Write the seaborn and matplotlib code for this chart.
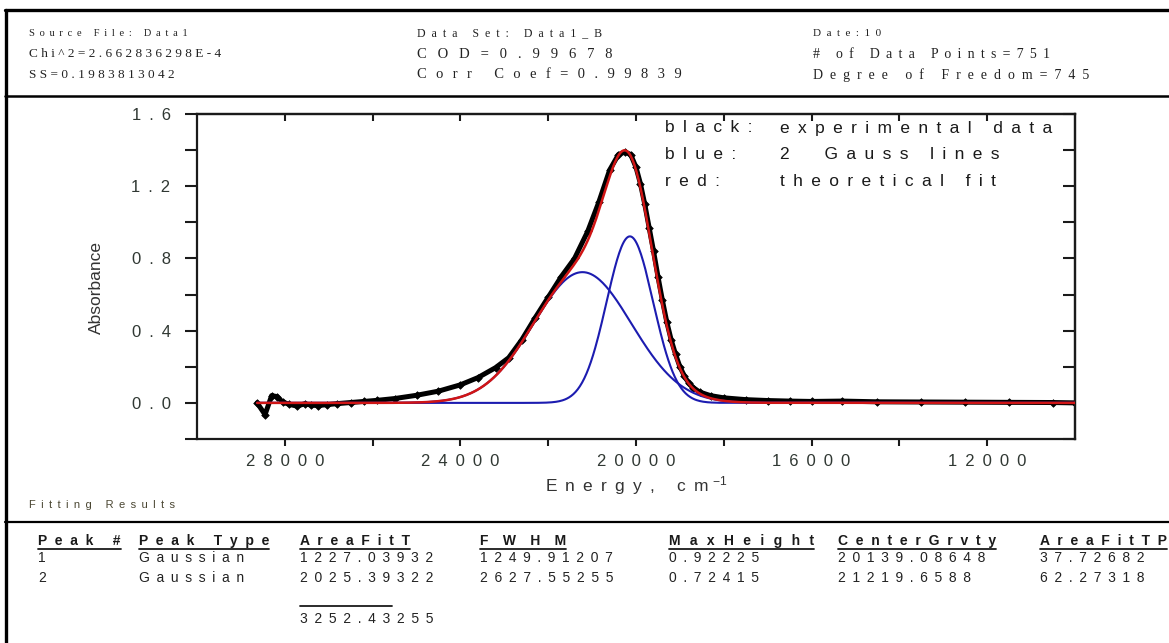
import numpy as np
import pandas as pd
import matplotlib
matplotlib.use("Agg")
import matplotlib.pyplot as plt
from matplotlib.lines import Line2D
from matplotlib.transforms import IdentityTransform
import seaborn as sns

# ---- experimental spectrum: energy (cm^-1) and absorbance ----
energy_exp = [28630, 28450, 28300, 28180, 28050, 27900, 27720, 27550, 27400, 27250,
              27050, 26800, 26500, 26200, 25900, 25500, 25000, 24500, 24000, 23600,
              23200, 22900, 22600, 22300, 22000, 21700, 21400, 21100, 20850, 20600,
              20400, 20250, 20120, 20000, 19900, 19800, 19700, 19600, 19500, 19400,
              19300, 19200, 19100, 19000, 18900, 18800, 18700, 18550, 18300, 18000,
              17500, 17000, 16500, 16000, 15300, 14500, 13500, 12500, 11500, 10500, 10000]
absorb_exp = [0.000, -0.065, 0.040, 0.035, 0.005, -0.008, -0.018, -0.005, -0.012, -0.015,
              -0.010, -0.004, 0.002, 0.008, 0.014, 0.024, 0.042, 0.065, 0.100, 0.140,
              0.195, 0.250, 0.350, 0.470, 0.585, 0.700, 0.800, 0.950, 1.110, 1.290,
              1.375, 1.390, 1.375, 1.305, 1.215, 1.100, 0.970, 0.840, 0.700, 0.570,
              0.450, 0.350, 0.270, 0.200, 0.150, 0.110, 0.085, 0.060, 0.040, 0.028,
              0.018, 0.013, 0.010, 0.008, 0.010, 0.006, 0.005, 0.004, 0.003, 0.002, 0.000]

# ---- Gaussian fit results ----
peak_no = [1, 2]
peak_type = ["Gaussian", "Gaussian"]
area_fit = [1227.03932, 2025.39322]
fwhm = [1249.91207, 2627.55255]
max_height = [0.92225, 0.72415]
center = [20139.08648, 21219.6588]
area_pct = [37.72682, 62.27318]
area_total = 3252.43255
n_points = 751

# ---- fit statistics header ----
stats_col1 = ["Source File: Data1", "Chi^2=2.662836298E-4", "SS=0.1983813042"]
stats_col2 = ["Data Set: Data1_B", "COD=0.99678", "Corr Coef=0.99839"]
stats_col3 = ["Date:10", "# of Data Points=751", "Degree of Freedom=745"]

x_major = [28000, 24000, 20000, 16000, 12000]
x_minor = [26000, 22000, 18000, 14000]
y_major = [0.0, 0.4, 0.8, 1.2, 1.6]
y_minor = [-0.2, 0.2, 0.6, 1.0, 1.4]

legend_keys = ["black:", "blue:", "red:"]
legend_vals = ["experimental data", "2  Gauss lines", "theoretical fit"]
table_heads = ["Peak #", "Peak Type", "AreaFitT", "FWHM", "MaxHeight", "CenterGrvty", "AreaFitTP"]

sns.set_theme(style="white")
plt.rcParams["font.family"] = ["Liberation Sans", "DejaVu Sans"]
plt.rcParams["mathtext.default"] = "regular"

W, H = 1169, 643
fig = plt.figure(figsize=(W / 100, H / 100), dpi=100)
fig.patch.set_facecolor("white")
renderer = fig.canvas.get_renderer()

SERIF = ["Liberation Serif", "DejaVu Serif"]
SANS = ["Liberation Sans", "DejaVu Sans"]
GAP = " \u2009"
GAP_CHOICES = [" ", " \u2009", " \u2009\u2009", "  ", "  \u2009", "  \u2009\u2009",
               "   ", "   \u2009", "    "]


def spaced(s, gap=" "):
    return gap.join(s)


def ftext(x, y, s, **kw):
    return fig.text(x / W, 1 - y / H, s, **kw)


def ftext_w(x, y, s, width, **kw):
    """Letter-spaced text whose spacing comes closest to the given pixel width."""
    best, best_err = None, None
    for g in GAP_CHOICES:
        t = ftext(x, y, spaced(s, g), **kw)
        err = abs(t.get_window_extent(renderer).width - width)
        t.remove()
        if best_err is None or err < best_err:
            best, best_err = g, err
    return ftext(x, y, spaced(s, best), **kw)


def fline(x0, x1, y0, y1, **kw):
    fig.add_artist(Line2D([x0 / W, x1 / W], [1 - y0 / H, 1 - y1 / H],
                          transform=fig.transFigure, **kw))


# ---- plot area ----
ax = fig.add_axes([197 / W, 1 - 439 / H, 878 / W, 325 / H])
ax.set_facecolor("white")

# Gaussian components and their sum on the fit grid
grid = np.linspace(energy_exp[0], energy_exp[-1], n_points)
comps = [h * np.exp(-4 * np.log(2) * (grid - c) ** 2 / w ** 2)
         for h, c, w in zip(max_height, center, fwhm)]
fit_df = pd.DataFrame({"energy": grid, "fit": np.sum(comps, axis=0)})
exp_df = pd.DataFrame({"energy": energy_exp, "absorbance": absorb_exp})

sns.lineplot(data=exp_df, x="energy", y="absorbance", ax=ax, color="black",
             linewidth=3.6, sort=False, zorder=2)
sns.scatterplot(data=exp_df, x="energy", y="absorbance", ax=ax, color="black",
                marker="D", s=15, edgecolor="black", linewidth=0.5, zorder=2)
for comp in comps:
    sns.lineplot(x=grid, y=comp, ax=ax, color="#1c1cb0", linewidth=1.5, zorder=3)
sns.lineplot(data=fit_df, x="energy", y="fit", ax=ax, color="#d01515",
             linewidth=1.8, zorder=4)

ax.set_xlim(30000, 10000)
ax.set_ylim(-0.2, 1.6)
ax.set_xlabel("")
ax.set_ylabel("")

tick_color = "#303833"
ax.set_xticks(x_major)
ax.set_xticks(x_minor, minor=True)
ax.set_xticklabels([spaced(str(v), GAP) for v in x_major], fontsize=12, color=tick_color)
ax.set_yticks(y_major)
ax.set_yticks(y_minor, minor=True)
ax.set_yticklabels([spaced(f"{v:.1f}", GAP) for v in y_major], fontsize=12, color=tick_color)
ax.tick_params(axis="x", which="both", direction="out", length=5, width=1.5,
               color="#1a1a1a", pad=6, bottom=True, top=False)
ax.tick_params(axis="y", which="both", direction="out", length=9, width=1.5,
               color="#1a1a1a", pad=10, left=True, right=False)
for sp in ax.spines.values():
    sp.set_visible(True)
    sp.set_color("#1a1a1a")
    sp.set_linewidth(1.6)

top = ax.secondary_xaxis("top")
top.set_xticks(x_major + x_minor)
top.set_xticklabels([])
top.tick_params(direction="in", length=5, width=1.5, color="#1a1a1a")
top.spines["top"].set_linewidth(1.6)
right = ax.secondary_yaxis("right")
right.set_yticks(y_major + y_minor)
right.set_yticklabels([])
right.tick_params(direction="in", length=9, width=1.5, color="#1a1a1a")
right.spines["right"].set_linewidth(1.6)

ftext(96, 288, "Absorbance", rotation=90, ha="center", va="center",
      fontsize=12.5, color="#333333", family=SANS)
ftext(636, 486, spaced("Energy, cm", GAP) + r" $^{-1}$", ha="center", va="center",
      fontsize=12.5, color="#333333", family=SANS)

# colour key inside the plot
for i, (k, v) in enumerate(zip(legend_keys, legend_vals)):
    y = 128 + 26.5 * i
    ftext(665, y, spaced(k, GAP), ha="left", va="center", fontsize=12.5,
          color="#1a1a1a", family=SANS)
    ftext(780, y, spaced(v, GAP), ha="left", va="center", fontsize=12.5,
          color="#1a1a1a", family=SANS)

# ---- frame and statistics header ----
fline(5, W, 10, 10, color="black", linewidth=2.4)
fline(6, 6, 10, H, color="black", linewidth=2.4)
fline(5, W, 96, 96, color="black", linewidth=1.8)
fline(5, W, 522, 522, color="black", linewidth=1.6)

row_y = [33, 54, 75]
stat_widths = [[158, 183, 162], [193, 201, 259], [68, 234, 272]]
stat_sizes = [[7.5, 9.5, 9.5], [8.5, 10.5, 10.5], [8, 10, 10]]
for col_x, col, widths, sizes in zip([29, 417, 813], [stats_col1, stats_col2, stats_col3],
                                     stat_widths, stat_sizes):
    for j, (s, wpx, fs) in enumerate(zip(col, widths, sizes)):
        ftext_w(col_x, row_y[j], s, wpx, ha="left", va="center",
                fontsize=fs, color="#222222", family=SERIF)

# ---- fitting results table ----
ftext(29, 505, spaced("Fitting Results", GAP), ha="left", va="center", fontsize=8,
      color="#4a4632", family=SANS)

col_x = [38, 139, 300, 480, 669, 838, 1040]
head_widths = [85, 133, 109, 86, 139, 159, 128]
head_txt = []
for x, h, wpx in zip(col_x, table_heads, head_widths):
    head_txt.append(ftext_w(x, 541, h, wpx, ha="left", va="center", fontsize=10,
                            fontweight="bold", color="#1a1a1a", family=SANS))
rows = [[str(n), t, str(a), str(w), str(m), str(c), str(p)]
        for n, t, a, w, m, c, p in zip(peak_no, peak_type, area_fit, fwhm,
                                       max_height, center, area_pct)]
for ry, row in zip([558, 578], rows):
    for x, s in zip(col_x, row):
        ftext(x, ry, spaced(s, GAP), ha="left", va="center", fontsize=10,
              color="#222222", family=SANS)

sum_txt = ftext(300, 619, spaced(str(area_total), GAP), ha="left", va="center",
                fontsize=10, color="#222222", family=SANS)

fig.canvas.draw()
for t in head_txt:
    bb = t.get_window_extent(renderer)
    fig.add_artist(Line2D([bb.x0, bb.x1], [bb.y0 - 0.5, bb.y0 - 0.5], color="#1a1a1a",
                          linewidth=1.3, transform=IdentityTransform()))
bb = sum_txt.get_window_extent(renderer)
fig.add_artist(Line2D([bb.x0, bb.x0 + 0.69 * bb.width], [bb.y1 + 6, bb.y1 + 6],
                      color="#1a1a1a", linewidth=1.3, transform=IdentityTransform()))

fig.savefig("out.png", dpi=100, facecolor="white")
